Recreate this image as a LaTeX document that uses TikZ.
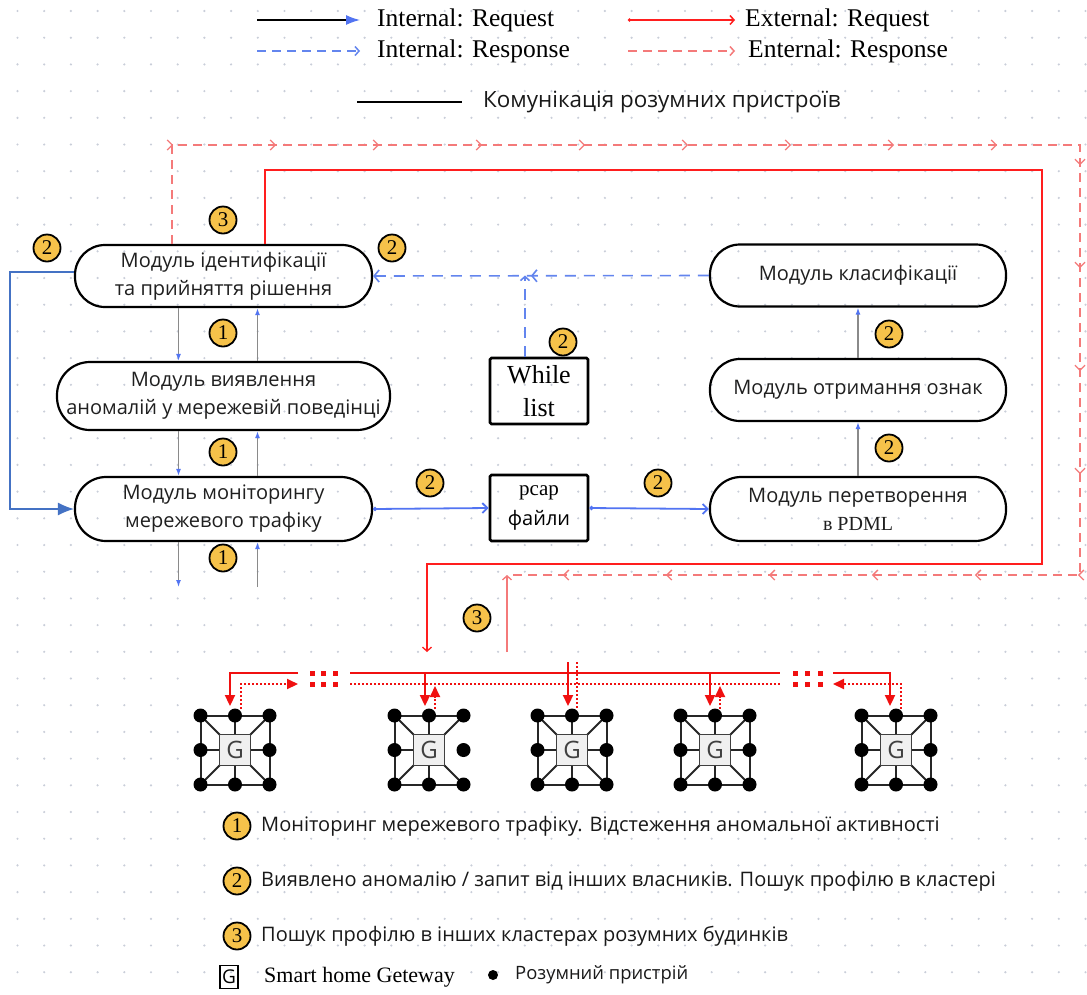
\documentclass[tikz,border=0pt]{standalone}
\usepackage{fontspec}
\setmainfont{Liberation Serif}
\newfontfamily\uisans{Open Sans}
\usetikzlibrary{arrows.meta,decorations.markings}

\definecolor{linkblue}{HTML}{5274F2}
\definecolor{loopblue}{HTML}{4472C4}
\definecolor{dashblue}{HTML}{6385EE}
\definecolor{reqred}{HTML}{FF1E1E}
\definecolor{respred}{HTML}{F47A7A}
\definecolor{busred}{HTML}{F01010}
\definecolor{badgefill}{HTML}{F6C24A}
\definecolor{gridgray}{HTML}{C9CED9}
\definecolor{flowgray}{HTML}{8A8A8A}

\tikzset{
  module/.style={draw=black, line width=2.2pt, rounded corners=30pt,
    minimum width=297pt, minimum height=62pt, align=center, inner sep=0pt,
    font=\uisans\fontsize{20}{28}\selectfont, text=black!88},
  filebox/.style={draw=black, line width=2.8pt, rounded corners=1.5pt,
    minimum width=98pt, minimum height=66pt, align=center, inner sep=0pt},
  badge/.style={circle, draw=black, line width=1.8pt, fill=badgefill,
    minimum size=27pt, inner sep=0pt, font=\fontsize{21}{21}\selectfont},
  flow/.style={draw=flowgray, line width=1.3pt,
    -{Latex[length=7pt,width=5pt,color=linkblue]}},
  link/.style={draw=linkblue, line width=1.8pt,
    {Circle[length=4pt]}-{Straight Barb[length=5pt,width=10pt]}},
  resp/.style={draw=dashblue, line width=1.6pt, dash pattern=on 11pt off 8pt},
  extreq/.style={draw=reqred, line width=1.3pt},
  extresp/.style={draw=respred, line width=1.3pt, dash pattern=on 9pt off 6pt},
  stepmarks/.style={postaction={decorate}, decoration={markings,
    mark=between positions 100pt and 1 step 103pt with
      {\arrow{Straight Barb[length=5pt,width=10pt]}}}},
  legtext/.style={anchor=west, inner sep=0pt, font=\fontsize{25.5}{25.5}\selectfont},
  keytext/.style={anchor=west, inner sep=0pt, font=\uisans\fontsize{20}{20}\selectfont, text=black!90},
  hubline/.style={draw=black!85, line width=2pt},
  gatebox/.style={draw=black!75, line width=1.6pt, fill=black!6, minimum size=31pt,
    inner sep=0pt, font=\uisans\fontsize{24}{24}\selectfont, text=black!75},
  busline/.style={draw=busred, line width=2.2pt},
  busdots/.style={draw=busred, line width=2pt, dash pattern=on 2pt off 2pt},
  bustip/.style={-{Triangle[length=11pt,width=10pt]}},
  pics/hub/.style={code={
    \draw[hubline] (-34.5,-34.5) -- (34.5,-34.5);
    \draw[hubline] (-34.5,-34.5) -- (-34.5,34.5) -- (34.5,34.5);
    \ifnum#1=1
      \draw[hubline] (34.5,-34.5) -- (34.5,34.5);
      \draw[hubline] (15,0) -- (34.5,0);
    \fi
    \draw[hubline] (0,-34.5) -- (0,-15) (0,34.5) -- (0,15) (-34.5,0) -- (-15,0);
    \draw[hubline] (-34.5,-34.5) -- (-15,-15) (34.5,-34.5) -- (15,-15)
                   (-34.5,34.5) -- (-15,15) (34.5,34.5) -- (15,15);
    \node[gatebox] at (0,0) {G};
    \foreach \p in {(-34.5,-34.5),(0,-34.5),(34.5,-34.5),(-34.5,0),(34.5,0),
                    (-34.5,34.5),(0,34.5),(34.5,34.5)}
      \fill[black] \p circle (7pt);
  }}
}

\begin{document}
\begin{tikzpicture}[x=1pt,y=-1pt]
  \useasboundingbox (0,0) rectangle (1087,994);
  \fill[white] (0,0) rectangle (1087,994);

  % dotted background grid
  \foreach \i in {0,...,40}
    \foreach \j in {0,...,37}
      \fill[gridgray] ({17.5+26.7*\i},{11+26.7*\j}) circle (1.2pt);
  \fill[white] (185,658) rectangle (950,800);

  % ---- key for the line types ----
  \coordinate (k1a) at (257,20);  \coordinate (k1b) at (360,20);
  \coordinate (k2a) at (257,51);  \coordinate (k2b) at (360,51);
  \coordinate (k3a) at (628,20);  \coordinate (k3b) at (735,20);
  \coordinate (k4a) at (628,51);  \coordinate (k4b) at (735,51);
  \coordinate (k5a) at (357,102); \coordinate (k5b) at (462,102);
  \draw[black, line width=1.3pt, -{Latex[length=14pt,width=10pt,color=linkblue]}] (k1a) -- (k1b);
  \draw[dashblue, line width=1.5pt, dash pattern=on 9pt off 6pt,
        -{Straight Barb[length=4pt,width=9pt]}] (k2a) -- (k2b);
  \draw[reqred, line width=1.5pt, {Circle[length=3pt]}-{Straight Barb[length=4pt,width=9pt]}] (k3a) -- (k3b);
  \draw[respred, line width=1.5pt, dash pattern=on 9pt off 6pt,
        -{Straight Barb[length=4pt,width=9pt]}] (k4a) -- (k4b);
  \draw[black, line width=1.3pt] (k5a) -- (k5b);
  \node[legtext] (lk1) at (377,20) {Internal: Request};
  \node[legtext] (lk2) at (377,51) {Internal: Response};
  \node[legtext] (lk3) at (745,20) {External: Request};
  \node[legtext] (lk4) at (748,51) {Enternal: Response};
  \node[keytext, font=\uisans\fontsize{22.4}{22.4}\selectfont] (lk5) at (483,102)
    {Комунікація розумних пристроїв};

  % ---- modules ----
  \node[module] (ident) at (223.5,276) {Модуль ідентифікації\\та прийняття рішення};
  \node[module, minimum width=333pt, minimum height=68pt, rounded corners=33pt] (vyav)
    at (223.5,396) {Модуль виявлення\\аномалій у мережевій поведінці};
  \node[module, minimum height=64pt, rounded corners=31pt] (monit) at (223.5,509)
    {Модуль моніторингу\\мережевого трафіку};
  \node[module, minimum width=296pt] (klas) at (858,275.5) {Модуль класифікації};
  \node[module, minimum width=296pt] (ozn) at (858,390) {Модуль отримання ознак};
  \node[module, minimum width=296pt, minimum height=64pt, rounded corners=31pt] (pdml)
    at (858,509) {Модуль перетворення\\{\rmfamily\fontsize{20}{20}\selectfont в PDML}};

  \node[filebox, font=\fontsize{26}{33}\selectfont] (white) at (539,391) {While\\list};
  \node[filebox, font=\fontsize{21}{30}\selectfont] (pcap) at (539,508)
    {pcap\\{\uisans\fontsize{20}{20}\selectfont файли}};

  % ---- internal links ----
  \coordinate (outdn) at (178.5,587);
  \coordinate (outup) at (257.5,587);
  \draw[flow] ([xshift=-45pt]ident.south) -- ([xshift=-45pt]vyav.north);
  \draw[flow] ([xshift=34pt]vyav.north) -- ([xshift=34pt]ident.south);
  \draw[flow] ([xshift=-45pt]vyav.south) -- ([xshift=-45pt]monit.north);
  \draw[flow] ([xshift=34pt]monit.north) -- ([xshift=34pt]vyav.south);
  \draw[flow] ([xshift=-45pt]monit.south) -- (outdn);
  \draw[flow] (outup) -- ([xshift=34pt]monit.south);
  \draw[flow] (pdml.north) -- (ozn.south);
  \draw[flow] (ozn.north) -- (klas.south);

  \draw[link] (monit.east) -- (pcap.west);
  \draw[link] (pcap.east) -- (pdml.west);

  \coordinate (loopx) at (10,390);
  \draw[loopblue, line width=1.3pt, -{Latex[length=16pt,width=13pt]}]
    ([yshift=4pt]ident.west) -| (loopx) |- (monit.west);

  \draw[resp, -{Straight Barb[length=5pt,width=12pt]}, postaction={decorate},
        decoration={markings, mark=at position 178pt with
          {\arrow{Straight Barb[length=5pt,width=12pt]}}}]
    (klas.west) -- (ident.east);
  \draw[resp, -{Straight Barb[length=4pt,width=9pt]}]
    ([xshift=-14pt]white.north) -- ([xshift=-14pt]white.north |- klas.west);

  % ---- external request / response ----
  \coordinate (rqTR) at (1042,170);
  \coordinate (rqBR) at (1042,564);
  \coordinate (rqBL) at (427,564);
  \coordinate (rqEnd) at (427,652);
  \draw[extreq, -{Straight Barb[length=4pt,width=9pt]}]
    ([xshift=41.5pt]ident.north) |- (rqTR) -- (rqBR) -- (rqBL) -- (rqEnd);

  \coordinate (rsTR) at (1080,145);
  \coordinate (rsBR) at (1080,575);
  \coordinate (rsBL) at (507,575);
  \coordinate (rsUp) at (507,652);
  \draw[extresp, stepmarks]
    ([xshift=-51.5pt]ident.north) |- (rsTR) -- (rsBR) -- (rsBL);
  \draw[respred, line width=1.3pt, -{Straight Barb[length=4pt,width=9pt]}] (rsUp) -- (rsBL);

  % ---- badges ----
  \node[badge] (n3a) at (223,220) {3};
  \node[badge] (n2a) at (47,248) {2};
  \node[badge] (n2b) at (392,248) {2};
  \node[badge] (n1a) at (223,333) {1};
  \node[badge] (n1b) at (223,452) {1};
  \node[badge] (n1c) at (223,558) {1};
  \node[badge] (n2c) at (563,342) {2};
  \node[badge] (n2d) at (430,483) {2};
  \node[badge] (n2e) at (658,483) {2};
  \node[badge] (n2f) at (889,334) {2};
  \node[badge] (n2g) at (889,448) {2};
  \node[badge] (n3b) at (477,618) {3};

  % ---- clusters of smart homes ----
  \pic (h1) at (235,750) {hub=1};
  \pic (h2) at (429,750) {hub=0};
  \pic (h3) at (572,750) {hub=1};
  \pic (h4) at (715,750) {hub=1};
  \pic (h5) at (896,750) {hub=1};

  \coordinate (b1s) at (298,673);  \coordinate (b1e) at (230,706);
  \coordinate (d1s) at (241,709);  \coordinate (d1e) at (298,684);
  \coordinate (bma) at (350,673);  \coordinate (bmb) at (780,673);
  \coordinate (dma) at (350,684);  \coordinate (dmb) at (780,684);
  \coordinate (b2s) at (425,673);  \coordinate (b2e) at (425,706);
  \coordinate (d2s) at (435,709);  \coordinate (d2e) at (435,686);
  \coordinate (b3s) at (568,662);  \coordinate (b3e) at (568,706);
  \coordinate (d3s) at (577,662);  \coordinate (d3e) at (577,709);
  \coordinate (b4s) at (710,673);  \coordinate (b4e) at (710,706);
  \coordinate (d4s) at (720,709);  \coordinate (d4e) at (720,686);
  \coordinate (b5s) at (833,673);  \coordinate (b5e) at (890,706);
  \coordinate (d5s) at (901,709);  \coordinate (d5e) at (833,684);

  \draw[busline, bustip] (b1s) -| (b1e);
  \draw[busdots, bustip] (d1s) |- (d1e);
  \draw[busline] (bma) -- (bmb);
  \draw[busdots] (dma) -- (dmb);
  \draw[busline, bustip] (b2s) -- (b2e);
  \draw[busdots, bustip] (d2s) -- (d2e);
  \draw[busline, bustip] (b3s) -- (b3e);
  \draw[busdots] (d3s) -- (d3e);
  \draw[busline, bustip] (b4s) -- (b4e);
  \draw[busdots, bustip] (d4s) -- (d4e);
  \draw[busline, bustip] (b5s) -| (b5e);
  \draw[busdots, bustip] (d5s) |- (d5e);
  \foreach \x in {312,323.5,335,795,807.5,820}
    \foreach \y in {673,684}
      \fill[busred] (\x-2.5,\y-2.5) rectangle (\x+2.5,\y+2.5);

  % ---- key for the stages ----
  \node[badge] (s1) at (237,826) {1};
  \node[badge] (s2) at (237,881) {2};
  \node[badge] (s3) at (237,936) {3};
  \node[keytext] (s1t) at (261,826) {Моніторинг мережевого трафіку. Відстеження аномальної активності};
  \node[keytext] (s2t) at (261,881) {Виявлено аномалію / запит від інших власників. Пошук профілю в кластері};
  \node[keytext] (s3t) at (261,936) {Пошук профілю в інших кластерах розумних будинків};
  \node[draw=black, line width=1.2pt, minimum width=18pt, minimum height=23pt, inner sep=0pt,
        font=\uisans\fontsize{19}{19}\selectfont] (gkey) at (229,977) {G};
  \node[legtext, font=\fontsize{22}{22}\selectfont] (gkt) at (264,977) {Smart home Geteway};
  \fill[black] (493,975) circle (5pt);
  \node[keytext, font=\uisans\fontsize{18.4}{18.4}\selectfont] (dkt) at (515,975) {Розумний пристрій};
\end{tikzpicture}
\end{document}
